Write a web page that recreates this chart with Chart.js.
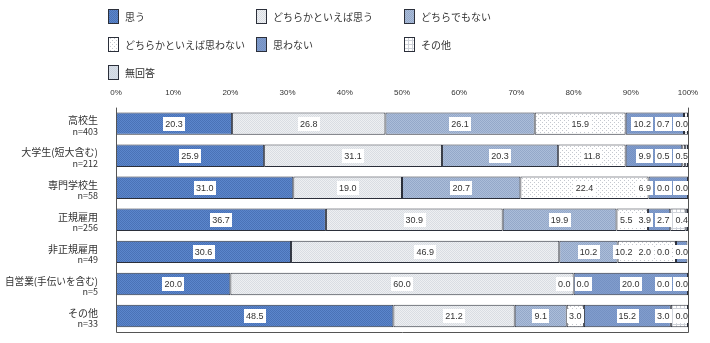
<!DOCTYPE html>
<html>
<head>
<meta charset="utf-8">
<script src="https://cdn.jsdelivr.net/npm/chart.js@4/dist/chart.umd.min.js"></script>
<style>
  html, body { margin: 0; padding: 0; background: #fff; }
  #wrap { width: 710px; height: 343px; position: relative; }
</style>
</head>
<body>
<div id="wrap"><canvas id="chart"></canvas></div>
<script>
// categories and sample sizes
const categories = ["高校生", "大学生(短大含む)", "専門学校生", "正規雇用", "非正規雇用", "自営業(手伝いを含む)", "その他"];
const sampleSizes = ["n=403", "n=212", "n=58", "n=256", "n=49", "n=5", "n=33"];
const seriesNames = ["思う", "どちらかといえば思う", "どちらでもない", "どちらかといえば思わない", "思わない", "その他", "無回答"];

// percentages per answer
const omou = [20.3, 25.9, 31.0, 36.7, 30.6, 20.0, 48.5];
const yaOmou = [26.8, 31.1, 19.0, 30.9, 46.9, 60.0, 21.2];
const dochiraDemo = [26.1, 20.3, 20.7, 19.9, 10.2, 0.0, 9.1];
const yaOmowanai = [15.9, 11.8, 22.4, 5.5, 10.2, 0.0, 3.0];
const omowanai = [10.2, 9.9, 6.9, 3.9, 2.0, 20.0, 15.2];
const sonota = [0.7, 0.5, 0.0, 2.7, 0.0, 0.0, 3.0];
const mukaitou = [0.0, 0.5, 0.0, 0.4, 0.0, 0.0, 0.0];

const xTicks = [0, 10, 20, 30, 40, 50, 60, 70, 80, 90, 100];

const ctx = document.getElementById("chart").getContext("2d");

// small tiled fills
function makePattern(base, ink, kind) {
  const size = kind === "checker" ? 2 : 4;
  const c = document.createElement("canvas");
  c.width = size; c.height = size;
  const g = c.getContext("2d");
  g.fillStyle = base;
  g.fillRect(0, 0, size, size);
  g.fillStyle = ink;
  if (kind === "checker") {
    g.fillRect(0, 0, 1, 1);
    g.fillRect(1, 1, 1, 1);
  } else if (kind === "dots") {
    g.fillRect(0, 0, 1, 1);
    g.fillRect(2, 2, 1, 1);
  } else if (kind === "grid") {
    g.fillRect(0, 0, size, 1);
    g.fillRect(0, 0, 1, size);
  }
  return ctx.createPattern(c, "repeat");
}

const fills = [
  makePattern("#5b86cc", "#4a72b6", "checker"),
  makePattern("#eef0f2", "#d9dde3", "checker"),
  makePattern("#abbdd9", "#94a8c9", "checker"),
  makePattern("#ffffff", "#c4c8cf", "dots"),
  makePattern("#819dcd", "#7591c3", "checker"),
  makePattern("#ffffff", "#cfd3da", "grid"),
  makePattern("#d8dfe8", "#cdd5e0", "checker")
];

const seriesValues = [omou, yaOmou, dochiraDemo, yaOmowanai, omowanai, sonota, mukaitou];

const datasets = seriesValues.map((vals, i) => ({
  label: seriesNames[i],
  data: vals,
  backgroundColor: fills[i],
  borderColor: "#2b2f3a",
  borderWidth: 1,
  borderSkipped: false,
  barPercentage: 0.7,
  categoryPercentage: 1.0
}));

// legend in three columns above the plot
const legendPlugin = {
  id: "gridLegend",
  afterDraw(chart) {
    const c = chart.ctx;
    const cols = [108, 256, 404];
    const rows = [16, 44, 72];
    c.save();
    c.font = '10px "Noto Sans CJK JP"';
    c.textBaseline = "middle";
    seriesNames.forEach((name, i) => {
      const x = cols[i % 3];
      const y = rows[Math.floor(i / 3)];
      c.fillStyle = fills[i];
      c.fillRect(x, y - 7, 10, 14);
      c.strokeStyle = "#2b2f3a";
      c.lineWidth = 1;
      c.strokeRect(x + 0.5, y - 6.5, 10, 14);
      c.fillStyle = "#333";
      c.fillText(name, x + 17, y + 1);
    });
    c.restore();
  }
};

// category names with n= under them, plus frame lines
const axisPlugin = {
  id: "catLabels",
  afterDraw(chart) {
    const c = chart.ctx;
    const area = chart.chartArea;
    const y = chart.scales.y;
    c.save();
    c.fillStyle = "#333";
    c.textAlign = "right";
    c.textBaseline = "middle";
    categories.forEach((cat, i) => {
      const py = y.getPixelForValue(i);
      c.font = '10px "Noto Sans CJK JP"';
      c.fillText(cat, 98, py - 3, 93);
      c.font = '9px "Noto Sans CJK JP"';
      c.fillText(sampleSizes[i], 98, py + 8);
    });
    c.strokeStyle = "#555";
    c.lineWidth = 1;
    c.beginPath();
    c.moveTo(area.left + 0.5, area.top);
    c.lineTo(area.left + 0.5, area.bottom + 0.5);
    c.lineTo(area.right + 0.5, area.bottom + 0.5);
    c.lineTo(area.right + 0.5, area.top);
    c.stroke();
    c.restore();
  }
};

// value labels in white boxes, spread apart where segments are narrow
const valueLabelPlugin = {
  id: "valueLabels",
  afterDatasetsDraw(chart) {
    const c = chart.ctx;
    const area = chart.chartArea;
    c.save();
    c.font = '9px "Liberation Sans"';
    c.textAlign = "center";
    c.textBaseline = "middle";
    categories.forEach((cat, i) => {
      const items = [];
      chart.data.datasets.forEach((ds, d) => {
        const bar = chart.getDatasetMeta(d).data[i];
        const text = ds.data[i].toFixed(1);
        const w = c.measureText(text).width + 4;
        items.push({ text, x: (bar.x + bar.base) / 2, y: bar.y, w });
      });
      for (let it = 0; it < 60; it++) {
        for (let k = 0; k < items.length - 1; k++) {
          const a = items[k], b = items[k + 1];
          const need = a.w / 2 + b.w / 2 + 2;
          const gap = b.x - a.x;
          if (gap < need) {
            const push = (need - gap) / 2;
            a.x -= push;
            b.x += push;
          }
        }
        items.forEach(o => {
          if (o.x + o.w / 2 > area.right + 2) o.x = area.right + 2 - o.w / 2;
        });
      }
      items.forEach(o => {
        c.fillStyle = "#fff";
        c.fillRect(Math.round(o.x - o.w / 2), Math.round(o.y - 7), Math.round(o.w), 14);
        c.fillStyle = "#333";
        c.fillText(o.text, o.x, o.y + 0.5);
      });
    });
    c.restore();
  }
};

new Chart(ctx, {
  type: "bar",
  data: {
    labels: categories,
    datasets: datasets
  },
  options: {
    indexAxis: "y",
    responsive: true,
    maintainAspectRatio: false,
    animation: false,
    layout: {
      padding: { left: 116, right: 22, top: 86, bottom: 11 }
    },
    plugins: {
      legend: { display: false },
      tooltip: { enabled: false }
    },
    scales: {
      x: {
        stacked: true,
        position: "top",
        min: 0,
        max: 100,
        afterBuildTicks(scale) {
          scale.ticks = xTicks.map(v => ({ value: v }));
        },
        ticks: {
          color: "#333",
          font: { size: 8, family: "Liberation Sans" },
          padding: 2,
          callback: v => v + "%"
        },
        grid: { display: false },
        border: { display: false }
      },
      y: {
        display: false,
        stacked: true
      }
    }
  },
  plugins: [legendPlugin, axisPlugin, valueLabelPlugin]
});
</script>
</body>
</html>
